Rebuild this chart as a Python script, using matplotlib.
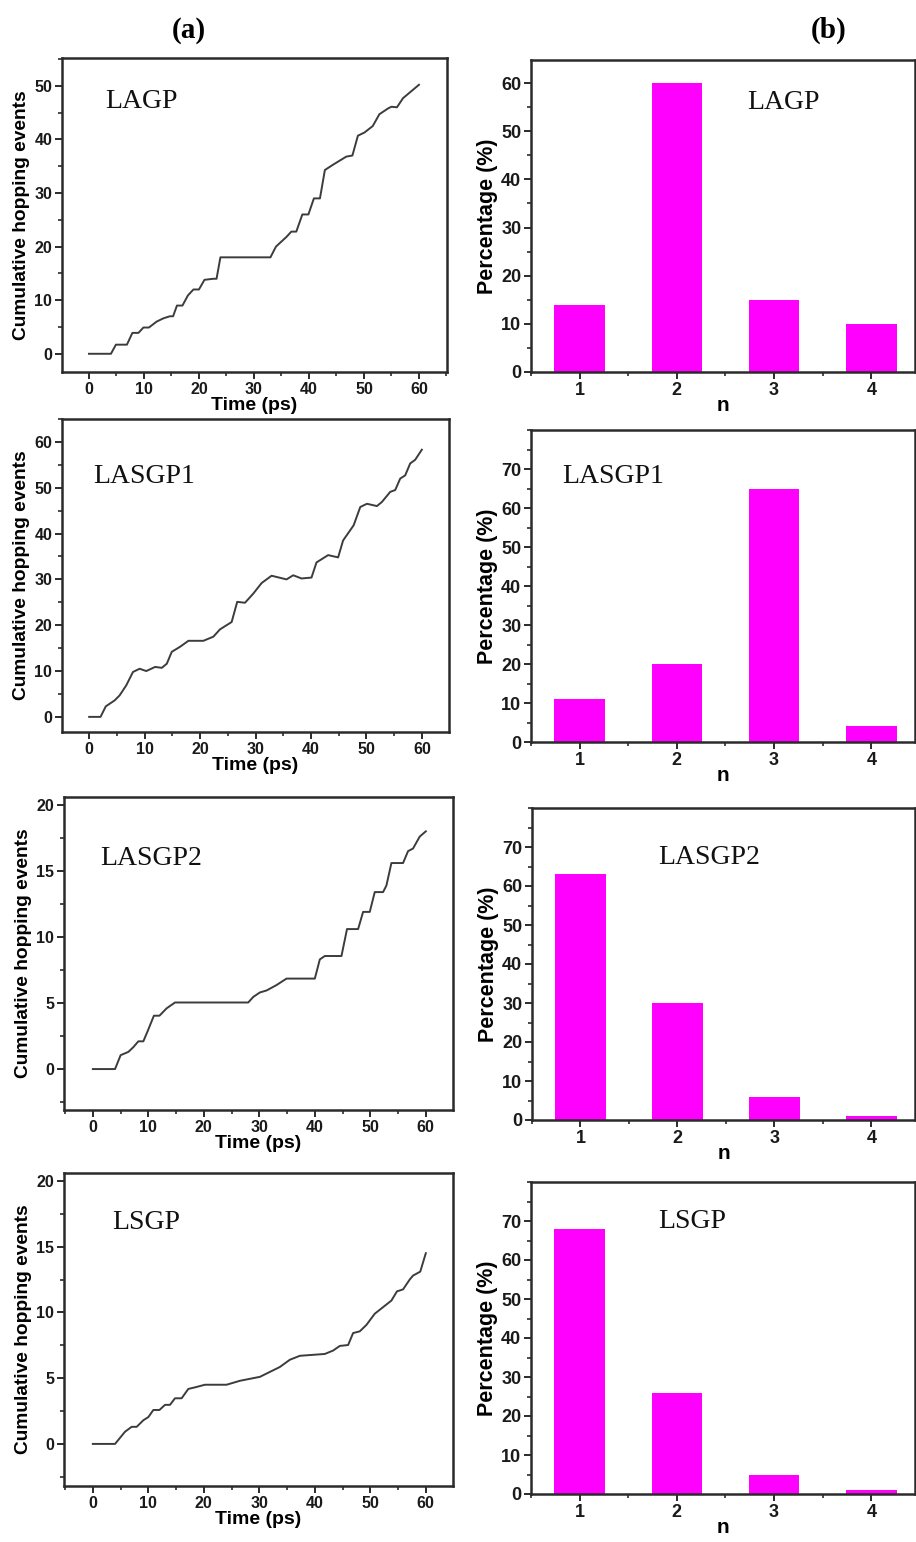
import matplotlib
matplotlib.use("Agg")
import matplotlib.pyplot as plt
from matplotlib.ticker import MultipleLocator

# Bold Arial-like text for ticks and axis labels
plt.rcParams["font.family"] = "Liberation Sans"
plt.rcParams["font.weight"] = "bold"
plt.rcParams["axes.labelweight"] = "bold"

# Cumulative hopping events vs time, one curve per material
names = ["LAGP", "LASGP1", "LASGP2", "LSGP"]

lagp_t = [0, 4.0, 4.9, 6.9, 7.9, 9.0, 9.9, 10.9, 12.3, 13.5, 14.7, 15.3, 16.0, 17.0,
          18.0, 19.0, 20.0, 21.0, 22.6, 23.2, 23.9, 33.0, 34.0, 35.9, 36.8, 37.7,
          38.8, 39.9, 40.9, 42.0, 42.9, 44.4, 46.8, 47.9, 48.9, 50.1, 51.6, 52.8,
          54.4, 55.0, 56.0, 57.1, 60.0]
lagp_y = [0, 0, 1.7, 1.7, 3.9, 3.9, 4.9, 4.9, 6.0, 6.6, 7.0, 7.0, 9.0, 9.0,
          10.9, 12.0, 12.0, 13.8, 14.0, 14.0, 18.0, 18.0, 20.0, 21.8, 22.8, 22.8,
          26.0, 26.0, 29.0, 29.0, 34.3, 35.3, 36.8, 37.0, 40.7, 41.3, 42.5, 44.7,
          45.8, 46.1, 46.0, 47.7, 50.2]

lasgp1_t = [0, 2.05, 3.0, 4.6, 5.5, 6.7, 7.9, 9.1, 10.3, 11.9, 13.1, 14.0, 14.9, 16.4,
            17.9, 20.6, 22.4, 23.6, 25.7, 26.7, 28.1, 29.6, 31.1, 32.9, 35.6, 36.8,
            38.3, 40.1, 41.0, 43.1, 44.9, 45.8, 47.7, 48.9, 50.1, 51.9, 52.8, 54.3,
            55.2, 56.1, 57.0, 57.9, 58.8, 60.0]
lasgp1_y = [0, 0, 2.3, 3.6, 4.7, 6.9, 9.8, 10.5, 10.0, 10.9, 10.7, 11.6, 14.2, 15.3,
            16.6, 16.6, 17.5, 19.1, 20.7, 25.1, 24.9, 26.9, 29.2, 30.8, 30.0, 30.9,
            30.2, 30.4, 33.7, 35.3, 34.8, 38.5, 41.8, 45.8, 46.5, 46.0, 46.9, 49.1,
            49.5, 52.0, 52.7, 55.3, 56.1, 58.3]

lasgp2_t = [0, 4.0, 5.0, 6.4, 7.3, 8.2, 9.1, 10.0, 11.0, 12.0, 13.3, 14.8, 28.0, 28.9,
            30.1, 31.3, 33.1, 34.9, 40.0, 40.9, 41.8, 44.8, 45.8, 47.8, 48.7, 49.9,
            50.8, 52.3, 52.9, 53.8, 55.9, 56.8, 57.7, 58.9, 60.0]
lasgp2_y = [0, 0, 1.05, 1.3, 1.66, 2.1, 2.1, 3.0, 4.04, 4.04, 4.6, 5.04, 5.04, 5.46,
            5.8, 5.95, 6.36, 6.85, 6.85, 8.3, 8.56, 8.56, 10.6, 10.6, 11.9, 11.9,
            13.4, 13.4, 13.9, 15.6, 15.6, 16.5, 16.7, 17.6, 18.0]

lsgp_t = [0, 4.0, 5.8, 7.0, 7.9, 9.1, 10.0, 10.9, 12.0, 13.0, 13.9, 14.8, 16.0, 17.2,
          18.4, 20.2, 24.1, 26.5, 30.1, 33.7, 35.5, 37.3, 41.8, 43.3, 44.5, 46.0,
          46.9, 48.1, 49.3, 50.8, 52.0, 53.8, 54.8, 55.9, 57.1, 57.7, 59.0, 60.0]
lsgp_y = [0, 0, 0.93, 1.3, 1.3, 1.8, 2.04, 2.58, 2.58, 2.97, 2.97, 3.47, 3.47, 4.18,
          4.3, 4.5, 4.5, 4.8, 5.1, 5.85, 6.4, 6.7, 6.84, 7.1, 7.45, 7.52,
          8.43, 8.56, 9.05, 9.9, 10.3, 10.9, 11.6, 11.75, 12.5, 12.8, 13.1, 14.5]

times = [lagp_t, lasgp1_t, lasgp2_t, lsgp_t]
events = [lagp_y, lasgp1_y, lasgp2_y, lsgp_y]

# Percentage of hops per n
n_values = [1, 2, 3, 4]
pct_lagp = [14, 60, 15, 10]
pct_lasgp1 = [11, 20, 65, 4]
pct_lasgp2 = [63, 30, 6, 1]
pct_lsgp = [68, 26, 5, 1]
percentages = [pct_lagp, pct_lasgp1, pct_lasgp2, pct_lsgp]

W, H = 916, 1542
fig = plt.figure(figsize=(W / 100, H / 100), dpi=100)
fig.patch.set_facecolor("white")

SPINE = "#2b2b2b"


def px_axes(left, top, right, bottom):
    # add axes from pixel edges of the figure
    return fig.add_axes([left / W, 1 - bottom / H, (right - left) / W, (bottom - top) / H])


def style(ax, major_y, minor_y, major_x, minor_x, tick_size):
    for s in ax.spines.values():
        s.set_linewidth(1.8)
        s.set_color(SPINE)
    ax.yaxis.set_major_locator(MultipleLocator(major_y))
    ax.yaxis.set_minor_locator(MultipleLocator(minor_y))
    ax.xaxis.set_major_locator(MultipleLocator(major_x))
    ax.xaxis.set_minor_locator(MultipleLocator(minor_x))
    ax.tick_params(which="major", direction="out", length=5, width=1.4, color=SPINE,
                   top=False, right=False, pad=2, labelsize=tick_size, labelcolor="#1a1a1a")
    ax.tick_params(which="minor", direction="out", length=3, width=1.2, color=SPINE,
                   top=False, right=False)


# left column: cumulative hopping events
left_boxes = [(62, 58, 447, 372), (62, 419, 449, 732), (64, 797, 453, 1110), (64, 1173, 453, 1486)]
left_xlims = [(-4.9, 65.1), (-4.9, 64.9), (-5.2, 64.9), (-5.2, 64.9)]
left_ylims = [(-3.4, 55.2), (-3.3, 65), (-3.1, 20.6), (-3.2, 20.6)]
left_ysteps = [(10, 5), (10, 5), (5, 2.5), (5, 2.5)]
left_ymax_tick = [50, 60, 20, 20]
left_name_pos = [(0.112, 0.86), (0.08, 0.815), (0.093, 0.805), (0.123, 0.843)]

for i in range(4):
    ax = px_axes(*left_boxes[i])
    ax.plot(times[i], events[i], color="#3c3c3c", lw=1.4)
    ax.set_xlim(*left_xlims[i])
    ax.set_ylim(*left_ylims[i])
    style(ax, left_ysteps[i][0], left_ysteps[i][1], 10, 5, 11.5)
    ax.set_xticks([0, 10, 20, 30, 40, 50, 60])
    ax.set_yticks(list(range(0, left_ymax_tick[i] + 1, left_ysteps[i][0])))
    ax.set_xlabel("Time (ps)", fontsize=14, labelpad=0)
    ax.set_ylabel("Cumulative hopping events", fontsize=13.8, labelpad=3)
    ax.text(*left_name_pos[i], names[i], transform=ax.transAxes, ha="left", va="center",
            family="Liberation Serif", weight="normal", fontsize=20, color="#111111")

# right column: distribution over n
right_boxes = [(531, 60, 915, 372), (531, 430, 915, 742), (532, 808, 915, 1120), (531, 1182, 915, 1494)]
right_ytop = [64.8, 80, 80, 80]
right_ymax_tick = [60, 70, 70, 70]
right_name_pos = [(0.5625, 0.865), (0.08, 0.85), (0.33, 0.84), (0.33, 0.872)]

for i in range(4):
    ax = px_axes(*right_boxes[i])
    ax.bar(n_values, percentages[i], width=0.52, color="#ff00ff", edgecolor="none")
    ax.set_xlim(0.5, 4.45)
    ax.set_ylim(0, right_ytop[i])
    style(ax, 10, 5, 1, 0.5, 13)
    ax.set_xticks(n_values)
    ax.set_yticks(list(range(0, right_ymax_tick[i] + 1, 10)))
    ax.set_xlabel("n", fontsize=15, labelpad=-2)
    ax.set_ylabel("Percentage (%)", fontsize=15.5, labelpad=2)
    ax.text(*right_name_pos[i], names[i], transform=ax.transAxes, ha="left", va="center",
            family="Liberation Serif", weight="normal", fontsize=20, color="#111111")

fig.text(189 / W, 1 - 30 / H, "(a)", ha="center", va="center",
         family="Liberation Serif", weight="bold", fontsize=21)
fig.text(829 / W, 1 - 30 / H, "(b)", ha="center", va="center",
         family="Liberation Serif", weight="bold", fontsize=21)

fig.savefig("out.png", dpi=100, facecolor="white")
